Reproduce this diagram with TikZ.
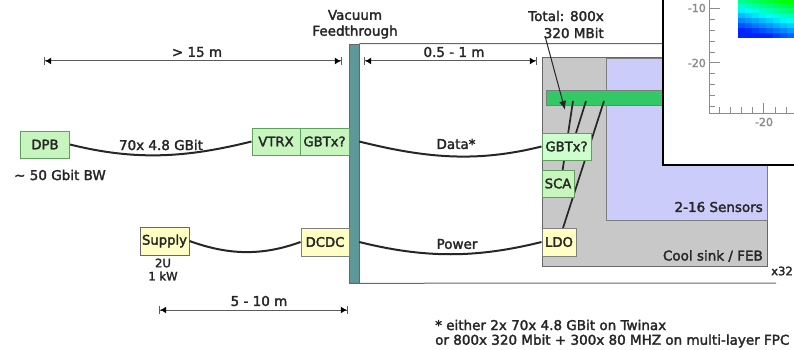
\documentclass[tikz,border=0pt]{standalone}
\usepackage{fontspec}
\setmainfont{DejaVu Sans}[FakeBold=2.2]
\usetikzlibrary{arrows.meta,calc}
\definecolor{ink}{HTML}{262626}
\definecolor{grn}{HTML}{C6F5BE}
\definecolor{grnb}{HTML}{CCFFCC}
\definecolor{yel}{HTML}{FFFFC4}
\definecolor{teal2}{HTML}{5F9898}
\definecolor{sink}{HTML}{C8C8C8}
\definecolor{sens}{HTML}{CCCCFA}
\definecolor{barg}{HTML}{33C866}
\definecolor{axisc}{HTML}{8C8C8C}
\tikzset{
  x=1pt,y=-1pt,
  lbl/.style={inner sep=0pt,text=ink,font=\fontsize{13.5}{14}\selectfont},
  small/.style={inner sep=0pt,text=ink,font=\fontsize{11.6}{12}\selectfont},
  box/.style={draw=#1,line width=1pt,inner sep=0pt,text=ink,font=\fontsize{13.2}{14}\selectfont},
  dim/.style={draw=ink!75,line width=1pt,{Bar[width=8pt,line width=1.2pt]Latex[length=6pt,width=7pt,black]}-{Latex[length=6pt,width=7pt,black]Bar[width=8pt,line width=1.2pt]}},
  cable/.style={draw=ink,line width=2pt},
  wire/.style={draw=ink,line width=1.7pt},
  rule/.style={draw=ink!70,line width=1pt},
  tick/.style={draw=axisc,line width=0.9pt},
  axlbl/.style={inner sep=0pt,text=axisc,font=\fontsize{11}{12}\selectfont},
}
\begin{document}
\begin{tikzpicture}
\useasboundingbox (0,0) rectangle (794,350);
\begin{scope}
\clip (0,0) rectangle (794,350);
% cool sink and sensors
\node[draw=ink!70,line width=1pt,fill=sink,minimum width=225pt,minimum height=208pt,inner sep=0pt] (sink) at (654.5,162) {};
\node[draw=ink!60,line width=0.8pt,fill=sens,minimum width=161pt,minimum height=162pt,inner sep=0pt] (sensors) at (686.5,139) {};
\node[draw=ink!60,line width=0.8pt,fill=barg,minimum width=160pt,minimum height=15pt,inner sep=0pt] (hybrid) at (626.5,97.5) {};
% feedthrough and frame
\node[draw=ink!70,line width=0.6pt,fill=teal2,minimum width=9.5pt,minimum height=239pt,inner sep=0pt] (vbar) at (354.2,163.5) {};
\coordinate (topend) at (680,43.5);
\coordinate (botend) at (776,283);
\draw[rule] (vbar.north east) -- (topend);
\draw[rule] (vbar.south west) -- (botend);
% wires from the hybrid bar
\coordinate (w1) at (573,101);
\coordinate (w2) at (586,101);
\coordinate (w3) at (604,101);
\coordinate (w1e) at (562.6,170);
\coordinate (w2e) at (576,133);
\coordinate (w3e) at (563,228);
\draw[wire] (w1) -- (w1e);
\draw[wire] (w2) -- (w2e);
\draw[wire] (w3) -- (w3e);
% boxes
\node[box={green!25!gray},fill=grn,minimum width=49pt,minimum height=27pt] (dpb) at (45,144.5) {DPB};
\node[box={green!25!gray},fill=grn,minimum width=48pt,minimum height=27pt] (vtrx) at (276,141.5) {VTRX};
\node[box={green!25!gray},fill=grn,minimum width=49pt,minimum height=27pt] (gbtl) at (324.5,141.5) {GBTx?};
\node[box={green!25!gray},fill=grnb,minimum width=49pt,minimum height=27pt] (gbtr) at (566.5,146.5) {GBTx?};
\node[box={green!25!gray},fill=grn,minimum width=32pt,minimum height=27pt] (sca) at (558,183.5) {SCA};
\node[box={gray},fill=yel,minimum width=34pt,minimum height=28pt] (ldo) at (559,242) {LDO};
\node[box={ink!70},fill=yel,minimum width=49pt,minimum height=28pt] (supply) at (164.5,241) {Supply};
\node[box={gray},fill=yel,minimum width=48pt,minimum height=28pt] (dcdc) at (325,242) {DCDC};
% cables
\draw[cable] (dpb.east) to[out=-14,in=194,looseness=0.95] (vtrx.west);
\draw[cable] (vbar.east |- gbtl.east) to[out=-14,in=194,looseness=0.95] (gbtr.west);
\draw[cable] (supply.east) to[out=-20,in=200,looseness=0.95] (dcdc.west);
\draw[cable] (vbar.east |- dcdc.east) to[out=-14,in=194,looseness=0.95] (ldo.west);
% dimension lines
\coordinate (d1a) at (44,61); \coordinate (d1b) at (342,61);
\coordinate (d2a) at (364,61); \coordinate (d2b) at (537,61);
\coordinate (d3a) at (159,310); \coordinate (d3b) at (348,310);
\draw[dim] (d1a) -- (d1b);
\draw[dim] (d2a) -- (d2b);
\draw[dim] (d3a) -- (d3b);
% labels
\node[lbl] (t1) at (197,52) {> 15 m};
\node[lbl] (t2) at (454,52) {0.5 - 1 m};
\node[lbl] (t3) at (259,301) {5 - 10 m};
\node[lbl] (t4) at (355,15) {Vacuum};
\node[lbl] (t5) at (355,32) {Feedthrough};
\node[lbl] (t6) at (161,145) {70x 4.8 GBit};
\node[lbl] (t7) at (456,144) {Data*};
\node[lbl] (t8) at (457,244) {Power};
\node[lbl,anchor=west] (t9) at (14,175) {\textasciitilde{} 50 Gbit BW};
\node[small] (t10) at (163,263) {2U};
\node[small] (t11) at (163,276) {1 kW};
\node[lbl,anchor=east] (t12) at (604,16) {Total: 800x};
\node[lbl,anchor=east] (t13) at (604,33) {320 MBit};
\node[lbl,anchor=east] (t14) at (763,207) {2-16 Sensors};
\node[lbl,anchor=east] (t15) at (763,256) {Cool sink / FEB};
\node[small,anchor=west] (t16) at (771,271) {x32};
\node[lbl,anchor=west] (t17) at (435,325) {* either 2x 70x 4.8 GBit on Twinax};
\node[lbl,anchor=west] (t18) at (435,341) {or 800x 320 Mbit + 300x 80 MHZ on multi-layer FPC};
% pointer to the bus
\coordinate (ptip) at (565,110);
\draw[draw=ink,line width=1pt,-{Latex[length=9pt,width=7pt]}] (545,36) -- (ptip);
% inset plot
\node[draw=black,line width=2pt,fill=white,minimum width=140pt,minimum height=167pt,inner sep=0pt,anchor=north west] (inset) at (662,-3) {};
\foreach \cx in {0,...,7}{
  \foreach \ry in {0,...,7}{
    \pgfmathsetmacro{\tv}{max(0,min(1,(\ry*5+2)/38*0.95+(7-\cx)/7*0.30-0.08))}
    \pgfmathtruncatemacro{\cg}{\tv<0.5 ? 255 : 255*(2-2*\tv)*0.85+35}
    \pgfmathtruncatemacro{\cb}{\tv<0.5 ? 510*\tv : 255}
    \definecolor{hc}{RGB}{0,\cg,\cb}
    \fill[hc] (738+\cx*7,-2+\ry*5) rectangle ++(7.2,5.2);
  }
}
\fill[blue!85!cyan] (741,35) rectangle (748,38);
\fill[blue!85!cyan] (760,35) rectangle (772,38);
\draw[tick] (709,-2) -- (709,113) -- (794,113);
\foreach \ty in {8,62.5}{\draw[tick] (709,\ty) -- (720,\ty);}
\foreach \ty in {19,30,41,52,73,84,95,106}{\draw[tick] (709,\ty) -- (715,\ty);}
\foreach \tx in {719,730,741,752,775,786}{\draw[tick] (\tx,113) -- (\tx,107);}
\draw[tick] (763.5,113) -- (763.5,103);
\node[axlbl,anchor=east] (a1) at (706,8) {-10};
\node[axlbl,anchor=east] (a2) at (706,63) {-20};
\node[axlbl] (a3) at (764,122) {-20};
\end{scope}
\end{tikzpicture}
\end{document}
